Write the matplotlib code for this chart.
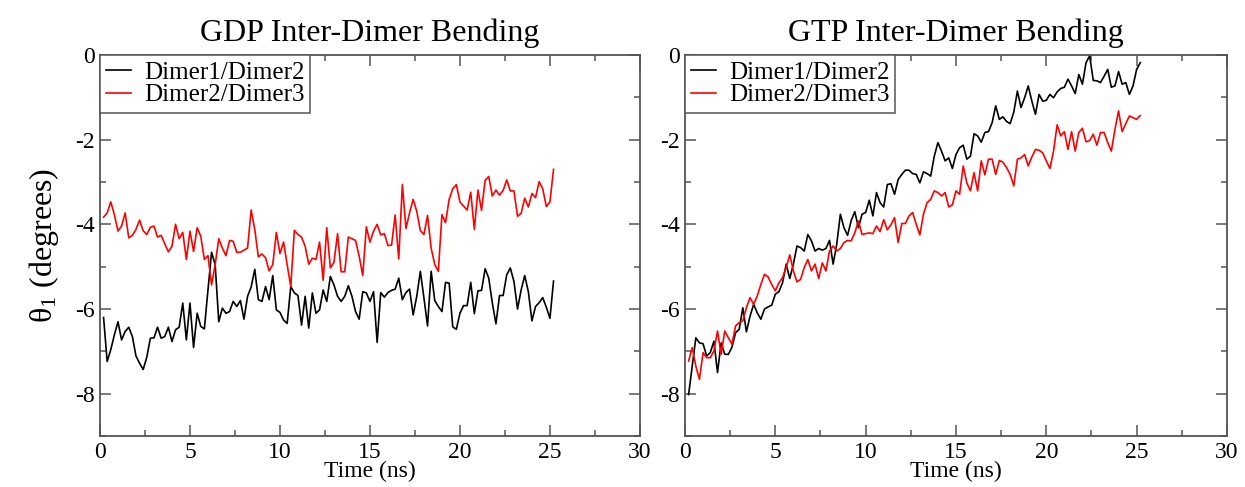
import matplotlib
matplotlib.use("Agg")
import matplotlib.pyplot as plt
from matplotlib.ticker import MultipleLocator
import numpy as np

# Simulation time grid (ns), one frame every 0.2 ns
time_ns = np.round(np.arange(1, 127) * 0.2, 1)

# GDP bending angles (degrees)
gdp_d1d2 = [-6.20, -7.24, -6.96, -6.61, -6.30, -6.73, -6.53, -6.43, -6.65, -7.11,
            -7.28, -7.43, -7.14, -6.69, -6.68, -6.43, -6.69, -6.65, -6.43, -6.77,
            -6.49, -6.43, -5.86, -6.73, -5.86, -6.91, -6.10, -6.41, -6.47, -5.55,
            -4.66, -4.95, -6.30, -5.98, -6.10, -6.06, -5.82, -5.94, -5.80, -6.24,
            -5.70, -5.48, -5.06,
            -5.78, -5.82, -5.47, -5.78, -5.21, -6.02, -6.08, -6.26, -6.34, -5.47,
            -5.62, -5.68, -6.38, -5.70, -6.45, -5.62, -6.10, -6.02, -5.55, -5.82,
            -5.23, -5.43, -5.70, -5.82, -5.70, -5.45, -5.70, -6.06, -6.24, -5.59,
            -5.62, -5.82, -5.59, -6.79, -5.61, -5.72, -5.61, -5.56, -5.53, -5.27,
            -5.78, -5.61, -5.53, -6.14, -5.70, -5.11, -5.74, -6.40, -5.11, -5.80,
            -5.94, -6.06, -5.37, -5.39, -6.42, -6.48, -6.10, -5.92, -5.92, -5.37,
            -6.11, -5.57, -5.56, -5.05, -5.27, -5.86, -6.35, -5.68, -5.68, -5.19,
            -5.03, -5.35, -6.00, -5.55, -5.21, -5.59, -6.28, -5.94, -5.85, -5.73,
            -5.96, -6.22, -5.34]
gdp_d2d3 = [-3.83, -3.73, -3.47, -3.77, -4.16, -4.04, -3.73, -4.32, -4.26, -4.12,
            -3.90, -4.15, -4.24, -4.07, -4.04, -4.30, -4.26, -4.46, -4.65, -4.52,
            -4.00, -4.34, -4.19, -4.83, -4.16, -4.64, -4.08, -4.28, -4.83, -4.74,
            -5.43, -4.95, -4.34, -4.56, -4.74, -4.38, -4.40, -4.66, -4.66, -4.61,
            -4.56, -3.66, -4.12,
            -4.77, -4.70, -4.79, -5.10, -4.95, -4.19, -4.69, -4.42, -4.95, -5.47,
            -4.14, -4.24, -4.30, -4.52, -4.94, -4.80, -4.83, -4.42, -5.32, -4.08,
            -5.03, -4.90, -4.22, -5.12, -5.12, -4.30, -4.34, -4.38, -4.75, -5.21,
            -4.06, -4.42, -4.16, -4.00, -4.25, -4.22, -4.50, -4.49, -3.78, -4.82,
            -3.06, -4.10, -3.73, -3.41, -3.69, -4.15, -4.24, -3.79, -4.56, -4.95,
            -5.11, -3.77, -3.96, -3.41, -3.16, -3.06, -3.47, -3.57, -3.66, -3.24,
            -4.12, -3.19, -3.67, -2.96, -2.87, -3.33, -3.19, -3.31, -3.20, -2.95,
            -3.21, -3.21, -3.81, -3.74, -3.38, -3.59, -3.27, -3.37, -2.99, -3.16,
            -3.58, -3.47, -2.70]

# GTP bending angles (degrees)
gtp_d1d2 = [-8.02, -7.35, -6.68, -6.80, -6.82, -7.11, -7.03, -6.76, -7.50, -6.80,
            -7.07, -7.07, -6.90, -6.56, -6.48, -5.97, -6.54, -6.17, -5.89, -6.09,
            -6.24, -6.00, -5.95, -5.91, -5.65, -5.59, -5.38, -4.94, -5.28, -4.94,
            -4.51, -4.55, -4.63, -4.24, -4.39, -4.63, -4.57, -4.61, -4.57, -4.38,
            -4.94, -4.47, -3.76, -4.08, -4.26, -3.91, -3.70, -4.08, -3.76, -3.72,
            -3.43, -3.80, -3.25, -3.49, -3.59, -3.06, -3.04, -3.29, -2.94, -2.82,
            -2.72, -2.72, -2.80,
            -2.82, -3.02, -2.76, -2.80, -2.86, -2.39, -2.07, -2.27, -2.50, -2.43,
            -2.68, -2.35, -2.19, -2.13, -2.46, -2.39, -1.86, -1.91, -2.06, -1.83,
            -1.81, -1.60, -1.20, -1.52, -1.46, -1.57, -1.62, -1.35, -0.85, -1.24,
            -1.01, -0.73,
            -1.09, -1.40, -0.93, -1.09, -1.07, -0.93, -1.01, -0.87, -0.79, -0.76,
            -0.57, -0.73, -0.91, -0.46, -0.69, -0.18, -0.02, -0.60, -0.61, -0.65,
            -0.50, -0.34, -0.76, -0.73, -0.39, -0.69, -0.65, -0.93, -0.73, -0.34,
            -0.18]
gtp_d2d3 = [-7.23, -6.91, -7.35, -7.66, -7.03, -7.15, -7.15, -6.99, -6.52, -7.07,
            -6.52, -6.68, -6.83, -6.40, -6.32, -6.28, -5.97, -5.73, -5.89, -5.69,
            -5.42, -5.18, -5.24, -5.42, -5.57, -5.38, -5.26, -5.02, -4.72, -5.10,
            -5.36, -5.30, -5.02, -4.83, -5.10, -4.94, -5.28, -4.91, -5.10, -4.63,
            -4.51, -4.63, -4.57, -4.43, -4.38, -4.39, -4.20, -3.92, -4.24, -4.22,
            -4.20, -4.22, -4.04, -4.17, -3.89, -4.13, -4.01, -3.84, -4.43, -3.98,
            -3.98, -3.80, -3.72,
            -4.00, -4.25, -3.76, -3.49, -3.41, -3.21, -3.25, -3.33, -3.25, -3.59,
            -3.54, -3.21, -3.29, -2.62, -3.02, -3.21, -2.78, -3.21, -2.50, -2.83,
            -2.46, -2.46, -2.82, -2.49, -2.53, -2.66, -2.82, -3.09, -2.46, -2.43,
            -2.35, -2.62,
            -2.41, -2.23, -2.25, -2.31, -2.50, -2.68, -2.27, -1.65, -1.91, -1.81,
            -2.23, -1.81, -2.27, -1.83, -1.73, -2.05, -2.02, -1.87, -2.13, -1.83,
            -1.83, -2.07, -2.27, -1.76, -1.32, -1.81, -1.62, -1.44, -1.48, -1.52,
            -1.43]

titles = ["GDP Inter-Dimer Bending", "GTP Inter-Dimer Bending"]
series_labels = ["Dimer1/Dimer2", "Dimer2/Dimer3"]
x_ticks = [0, 5, 10, 15, 20, 25, 30]
y_ticks = [0, -2, -4, -6, -8]

FRAME_COLOR = '#555555'

plt.rcParams['font.family'] = ['Liberation Serif', 'DejaVu Serif']
plt.rcParams['mathtext.fontset'] = 'custom'
plt.rcParams['mathtext.rm'] = 'Liberation Serif'
plt.rcParams['axes.unicode_minus'] = False

fig = plt.figure(figsize=(12.45, 4.87), dpi=100)
ax1 = fig.add_axes([0.0803, 0.1047, 0.4337, 0.7823])
ax2 = fig.add_axes([0.5502, 0.1047, 0.4353, 0.7823])

panels = [(ax1, gdp_d1d2, gdp_d2d3, titles[0]),
          (ax2, gtp_d1d2, gtp_d2d3, titles[1])]

for ax, s1, s2, title in panels:
    ax.plot(time_ns, s1, color='black', lw=1.2, label=series_labels[0])
    ax.plot(time_ns, s2, color='red', lw=1.2, label=series_labels[1])
    ax.set_xlim(0, 30)
    ax.set_ylim(-9, 0)
    ax.set_xticks(x_ticks)
    ax.set_yticks(y_ticks)
    ax.xaxis.set_minor_locator(MultipleLocator(2.5))
    ax.yaxis.set_minor_locator(MultipleLocator(1))
    ax.tick_params(which='both', direction='in', top=True, right=True,
                   color=FRAME_COLOR, width=1.1, labelsize=17)
    ax.tick_params(which='major', length=8, pad=4)
    ax.tick_params(which='minor', length=4)
    for sp in ax.spines.values():
        sp.set_color(FRAME_COLOR)
        sp.set_linewidth(1.3)
    ax.set_title(title, fontsize=23, pad=10)
    ax.set_xlabel('Time (ns)', fontsize=17, labelpad=-1)
    leg = ax.legend(loc='upper left', fontsize=18, frameon=True, fancybox=False,
                    edgecolor=FRAME_COLOR, framealpha=1, borderaxespad=0,
                    handlelength=1.0, handletextpad=0.5, labelspacing=0.0,
                    borderpad=0.25)
    leg.get_frame().set_linewidth(1.1)

ax1.set_ylabel(r'$\mathrm{θ_1}$ (degrees)', fontsize=23, labelpad=10)

fig.savefig('out.png', dpi=100)
